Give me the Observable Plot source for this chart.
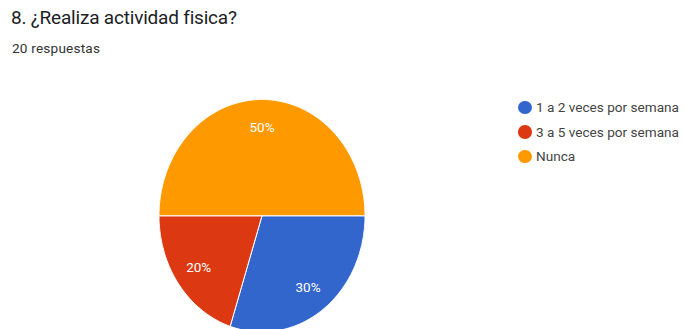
<!DOCTYPE html>
<html>
<head>
<meta charset="utf-8">
<script src="https://cdn.jsdelivr.net/npm/d3@7"></script>
<script src="https://cdn.jsdelivr.net/npm/@observablehq/plot@0.6"></script>
<style>
  html, body { margin: 0; padding: 0; background: #fff; }
  #wrap { position: relative; width: 683px; height: 329px; overflow: hidden; font-family: Roboto, "Noto Sans", sans-serif; }
  #chart { position: absolute; left: 0; top: 0; }
  .title { position: absolute; left: 11px; top: 6px; font-size: 19px; color: #202124; white-space: nowrap; letter-spacing: -0.2px; }
  .subtitle { position: absolute; left: 12px; top: 40px; font-size: 13.6px; color: #333; white-space: nowrap; letter-spacing: 0.2px; }
  .legend { position: absolute; left: 518px; top: 95px; }
  .legend .item { display: flex; align-items: center; height: 24.5px; font-size: 13.6px; color: #444; white-space: nowrap; }
  .legend .sw { width: 13.5px; height: 13.5px; border-radius: 50%; margin-right: 4.5px; }
</style>
</head>
<body>
<div id="wrap">
  <div id="chart"></div>
  <div class="title">8. ¿Realiza actividad fisica?</div>
  <div class="subtitle">20 respuestas</div>
  <div class="legend" id="legend"></div>
</div>
<script>
const categories = ["1 a 2 veces por semana", "3 a 5 veces por semana", "Nunca"];
const values = [30, 20, 50];
const colors = ["#3366cc", "#dc3912", "#ff9900"];

const startAngle = Math.PI / 2; // slices start at 3 o'clock, clockwise
const total = d3.sum(values);
const pieData = categories.map((c, i) => ({ cat: c, value: values[i] }));
const arcs = d3.pie().value(d => d.value).sort(null)
  .startAngle(startAngle).endAngle(startAngle + 2 * Math.PI)(pieData);

// polygon points for each slice (angle measured clockwise from 12 o'clock)
const pts = [];
arcs.forEach(a => {
  const n = Math.max(8, Math.ceil((a.endAngle - a.startAngle) / 0.01));
  pts.push({ cat: a.data.cat, x: 0, y: 0 });
  for (let k = 0; k <= n; k++) {
    const t = a.startAngle + (a.endAngle - a.startAngle) * k / n;
    pts.push({ cat: a.data.cat, x: Math.sin(t), y: -Math.cos(t) });
  }
  pts.push({ cat: a.data.cat, x: 0, y: 0 });
});

const labelR = 0.76;
const labels = arcs.map(a => {
  const m = (a.startAngle + a.endAngle) / 2;
  return { x: labelR * Math.sin(m), y: -labelR * Math.cos(m), text: Math.round(a.data.value / total * 100) + "%" };
});

const chart = Plot.plot({
  width: 683,
  height: 329,
  x: { domain: [-1, 1], range: [158.5, 364.5], axis: null },
  y: { domain: [-1, 1], range: [99, 331.5], axis: null },
  color: { domain: categories, range: colors },
  style: { background: "transparent", overflow: "visible" },
  marks: [
    Plot.line(pts, { x: "x", y: "y", z: "cat", fill: "cat", stroke: "white", strokeWidth: 1, curve: "linear" }),
    Plot.text(labels, { x: "x", y: "y", text: "text", fill: "white", fontSize: 13.5, fontFamily: "Roboto, sans-serif" })
  ]
});
document.getElementById("chart").appendChild(chart);

const legend = document.getElementById("legend");
categories.forEach((c, i) => {
  const item = document.createElement("div");
  item.className = "item";
  const sw = document.createElement("div");
  sw.className = "sw";
  sw.style.background = colors[i];
  const tx = document.createElement("span");
  tx.textContent = c;
  item.appendChild(sw);
  item.appendChild(tx);
  legend.appendChild(item);
});
</script>
</body>
</html>
